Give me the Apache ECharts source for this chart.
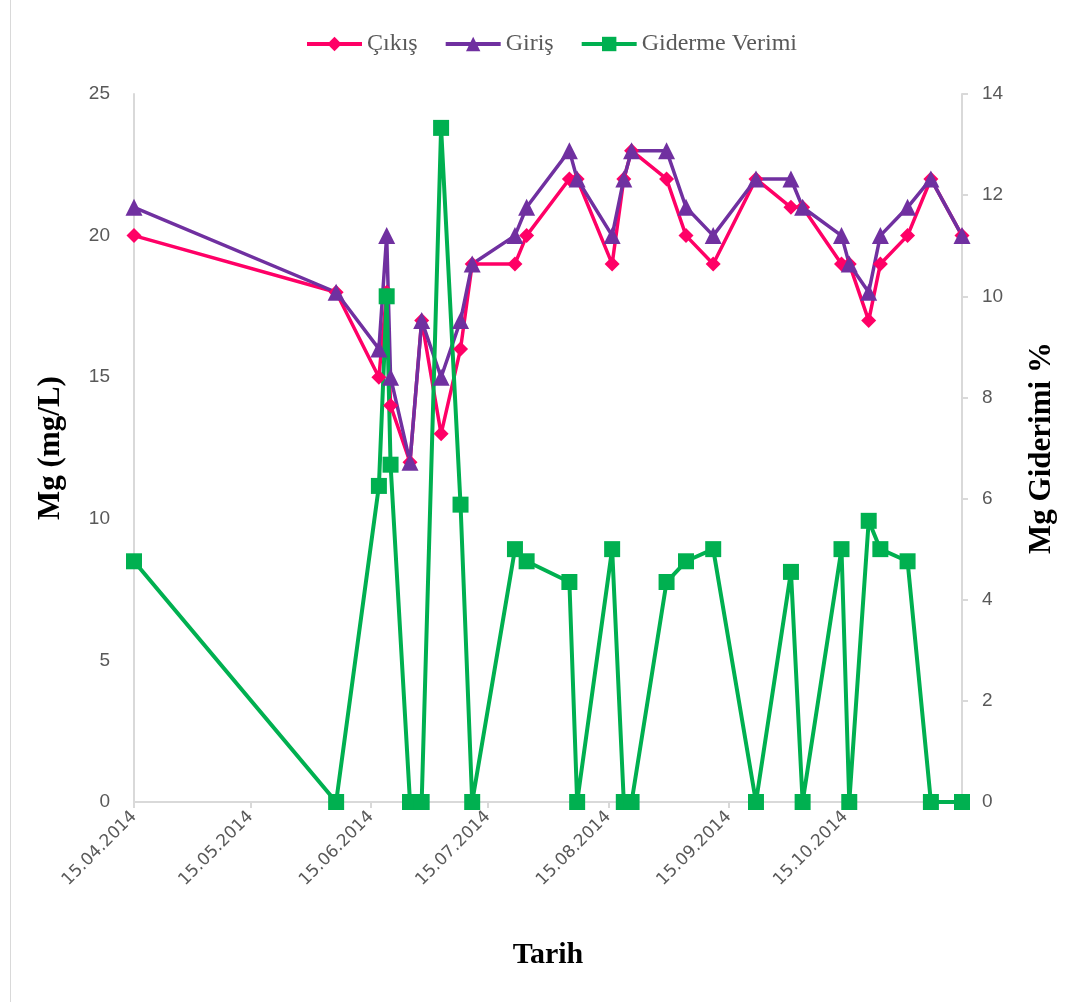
<!DOCTYPE html>
<html>
<head>
<meta charset="utf-8">
<title>Mg</title>
<script src="https://cdn.jsdelivr.net/npm/echarts@6/dist/echarts.min.js"></script>
<style>
  html, body { margin: 0; padding: 0; background: #ffffff; }
  #chart { width: 1087px; height: 1002px; }
</style>
</head>
<body>
<div id="chart"></div>
<script>
// Sampling dates (DD.MM.YYYY on the axis)
const dates = [
  '2014-04-15', '2014-06-06', '2014-06-17', '2014-06-19', '2014-06-20',
  '2014-06-25', '2014-06-28', '2014-07-03', '2014-07-08', '2014-07-11',
  '2014-07-22', '2014-07-25', '2014-08-05', '2014-08-07', '2014-08-16',
  '2014-08-19', '2014-08-21', '2014-08-30', '2014-09-04', '2014-09-11',
  '2014-09-22', '2014-10-01', '2014-10-04', '2014-10-14', '2014-10-16',
  '2014-10-21', '2014-10-24', '2014-10-31', '2014-11-06', '2014-11-14'
];

// Outlet Mg (mg/L)
const cikis = [
  20, 18, 15, 18, 14, 12, 17, 13, 16, 19,
  19, 20, 22, 22, 19, 22, 23, 22, 20, 19,
  22, 21, 21, 19, 19, 17, 19, 20, 22, 20
];

// Inlet Mg (mg/L)
const giris = [
  21, 18, 16, 20, 15, 12, 17, 15, 17, 19,
  20, 21, 23, 22, 20, 22, 23, 23, 21, 20,
  22, 22, 21, 20, 19, 18, 20, 21, 22, 20
];

// Removal efficiency (%)
const verim = [
  4.76, 0, 6.25, 10, 6.67, 0, 0, 13.33, 5.88, 0,
  5, 4.76, 4.35, 0, 5, 0, 0, 4.35, 4.76, 5,
  0, 4.55, 0, 5, 0, 5.56, 5, 4.76, 0, 0
];

// Monthly tick dates on the date axis
const tickDates = [
  '2014-04-15', '2014-05-15', '2014-06-15', '2014-07-15',
  '2014-08-15', '2014-09-15', '2014-10-15'
];
const axisStart = '2014-04-15';
const axisEnd = '2014-11-14';

function ts(s) {
  const p = s.split('-').map(Number);
  return new Date(p[0], p[1] - 1, p[2]).getTime();
}
function pad(n) { return (n < 10 ? '0' : '') + n; }
function fmtDate(v) {
  const d = new Date(v);
  return pad(d.getDate()) + '.' + pad(d.getMonth() + 1) + '.' + d.getFullYear();
}

const tickTs = tickDates.map(ts);
const pairs = (vals) => dates.map((d, i) => [ts(d), vals[i]]);

const gray = '#595959';
const axisGray = '#d9d9d9';
const serif = '"Liberation Serif", "Times New Roman", serif';
const sans = '"Liberation Sans", Arial, sans-serif';

const chart = echarts.init(document.getElementById('chart'), null, { renderer: 'canvas' });

chart.setOption({
  animation: false,
  backgroundColor: '#ffffff',
  graphic: [{
    type: 'line',
    shape: { x1: 10.5, y1: 0, x2: 10.5, y2: 1002 },
    style: { stroke: axisGray, lineWidth: 1 },
    silent: true
  }],
  legend: {
    top: 27,
    left: 300,
    itemWidth: 55,
    itemHeight: 18,
    itemGap: 26,
    lineStyle: { width: 4 },
    textStyle: { fontFamily: serif, fontSize: 24, color: gray },
    data: ['Çıkış', 'Giriş', 'Giderme Verimi']
  },
  grid: { left: 134, right: 125, top: 94, bottom: 200, containLabel: false },
  xAxis: {
    type: 'value',
    min: ts(axisStart),
    max: ts(axisEnd),
    name: 'Tarih',
    nameLocation: 'middle',
    nameGap: 138,
    nameTextStyle: { fontFamily: serif, fontSize: 30, fontWeight: 'bold', color: '#000000' },
    axisLine: { show: true, lineStyle: { color: axisGray, width: 2 } },
    axisTick: { show: true, customValues: tickTs, length: 6, lineStyle: { color: axisGray, width: 2 } },
    axisLabel: {
      customValues: tickTs,
      rotate: 45,
      margin: 12,
      fontFamily: '"DejaVu Sans", sans-serif',
      fontSize: 17,
      color: gray,
      formatter: (v) => fmtDate(v)
    },
    splitLine: { show: false }
  },
  yAxis: [{
    type: 'value',
    min: 0,
    max: 25,
    interval: 5,
    name: 'Mg (mg/L)',
    nameLocation: 'middle',
    nameRotate: 90,
    nameGap: 68,
    nameTextStyle: { fontFamily: serif, fontSize: 31, fontWeight: 'bold', color: '#000000' },
    axisLine: { show: true, lineStyle: { color: axisGray, width: 2 } },
    axisTick: { show: false },
    axisLabel: { margin: 24, fontFamily: sans, fontSize: 19, color: gray },
    splitLine: { show: false }
  }, {
    type: 'value',
    min: 0,
    max: 14,
    interval: 2,
    position: 'right',
    name: 'Mg Giderimi %',
    nameLocation: 'middle',
    nameRotate: 90,
    nameGap: 64,
    nameTextStyle: { fontFamily: serif, fontSize: 31, fontWeight: 'bold', color: '#000000' },
    axisLine: { show: true, lineStyle: { color: axisGray, width: 2 } },
    axisTick: { show: true, length: 6, lineStyle: { color: axisGray, width: 2 } },
    axisLabel: { margin: 20, fontFamily: sans, fontSize: 19, color: gray },
    splitLine: { show: false }
  }],
  series: [{
    name: 'Çıkış',
    type: 'line',
    yAxisIndex: 0,
    data: pairs(cikis),
    symbol: 'diamond',
    symbolSize: 15,
    color: '#ff0066',
    lineStyle: { width: 3.5, color: '#ff0066' },
    itemStyle: { color: '#ff0066' }
  }, {
    name: 'Giriş',
    type: 'line',
    yAxisIndex: 0,
    data: pairs(giris),
    symbol: 'triangle',
    symbolSize: 17,
    color: '#7030a0',
    lineStyle: { width: 3.5, color: '#7030a0' },
    itemStyle: { color: '#7030a0' }
  }, {
    name: 'Giderme Verimi',
    type: 'line',
    yAxisIndex: 1,
    data: pairs(verim),
    symbol: 'rect',
    symbolSize: 16,
    color: '#00b050',
    lineStyle: { width: 4, color: '#00b050' },
    itemStyle: { color: '#00b050' }
  }]
});
</script>
</body>
</html>
